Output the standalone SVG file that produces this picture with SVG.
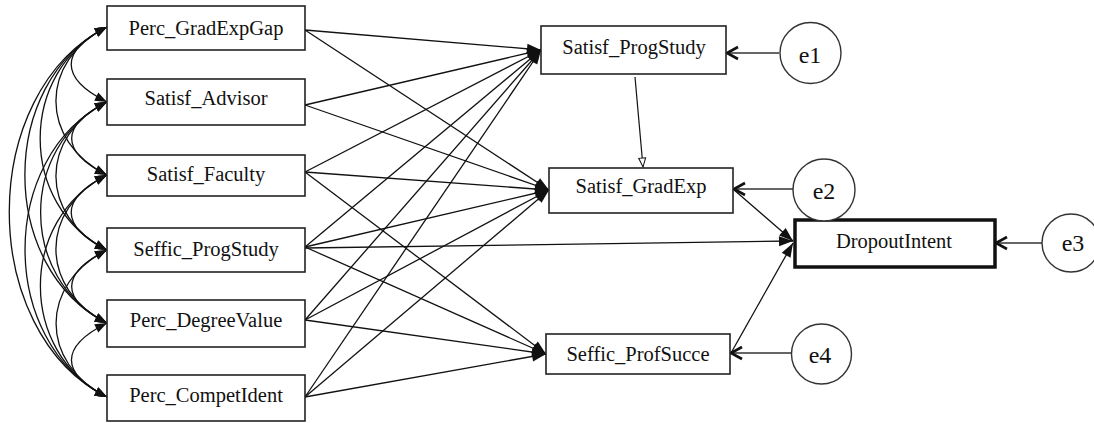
<svg xmlns="http://www.w3.org/2000/svg" width="1094" height="423" viewBox="0 0 1094 423">
  <style>
    .box { fill: #fff; stroke: #222; stroke-width: 1.6; }
    .box.main { stroke: #111; stroke-width: 3.5; }
    .err { fill: #fff; stroke: #333; stroke-width: 1.4; }
    .lbl { font-family: "Liberation Serif", "Times New Roman", serif; font-size: 20.5px; fill: #111; text-anchor: middle; }
    .elbl { font-family: "Liberation Serif", "Times New Roman", serif; font-size: 24px; fill: #111; text-anchor: middle; }
    .path { fill: none; stroke: #111; stroke-width: 1.3; marker-end: url(#head); }
    .cov { fill: none; stroke: #111; stroke-width: 1.3; marker-start: url(#covhead); marker-end: url(#covhead); }
    .res { fill: none; stroke: #333; stroke-width: 1.3; marker-end: url(#vhead); }
    .thin { fill: none; stroke: #111; stroke-width: 1.2; marker-end: url(#small); }
  </style>
  <defs>
    <marker id="head" markerUnits="userSpaceOnUse" markerWidth="16" markerHeight="12" refX="14" refY="5" orient="auto" overflow="visible">
      <path d="M0,0 L14,5 L0,10 z" fill="#111"/>
    </marker>
    <marker id="covhead" markerUnits="userSpaceOnUse" markerWidth="14" markerHeight="10" refX="12" refY="4.5" orient="auto-start-reverse" overflow="visible">
      <path d="M0,0 L12,4.5 L0,9 z" fill="#111"/>
    </marker>
    <marker id="vhead" markerUnits="userSpaceOnUse" markerWidth="14" markerHeight="14" refX="11" refY="6" orient="auto" overflow="visible">
      <path d="M0,0 L11,6 L0,12" fill="none" stroke="#111" stroke-width="2.6"/>
    </marker>
    <marker id="small" markerUnits="userSpaceOnUse" markerWidth="10" markerHeight="8" refX="9" refY="3.5" orient="auto" overflow="visible">
      <path d="M0,0 L9,3.5 L0,7 z" fill="#fff" stroke="#111" stroke-width="1"/>
    </marker>
  </defs>

  <!-- connectors -->
  <g id="connectors">
    <!-- covariances among exogenous variables -->
    <path class="cov" d="M107,27 C59.3,50.8 59.3,78.2 107,102"/>
    <path class="cov" d="M107,27 C38.9,61.1 38.9,140.9 107,175"/>
    <path class="cov" d="M107,27 C17.9,71.6 17.9,205.4 107,250"/>
    <path class="cov" d="M107,27 C-2.5,81.8 -2.5,268.2 107,323"/>
    <path class="cov" d="M107,27 C-23.3,92.1 -23.3,331.9 107,397"/>
    <path class="cov" d="M107,102 C59.9,125.5 59.9,151.5 107,175"/>
    <path class="cov" d="M107,102 C38.9,136.1 38.9,215.9 107,250"/>
    <path class="cov" d="M107,102 C18.5,146.3 18.5,278.7 107,323"/>
    <path class="cov" d="M107,102 C-2.3,156.6 -2.3,342.4 107,397"/>
    <path class="cov" d="M107,175 C59.3,198.8 59.3,226.2 107,250"/>
    <path class="cov" d="M107,175 C38.9,209.1 38.9,288.9 107,323"/>
    <path class="cov" d="M107,175 C18.2,219.4 18.2,352.6 107,397"/>
    <path class="cov" d="M107,250 C59.9,273.5 59.9,299.5 107,323"/>
    <path class="cov" d="M107,250 C39.1,283.9 39.1,363.1 107,397"/>
    <path class="cov" d="M107,323 C59.6,346.7 59.6,373.3 107,397"/>

    <!-- to Satisf_ProgStudy -->
    <path class="path" d="M305,30 L541,50"/>
    <path class="path" d="M305,105 L541,50"/>
    <path class="path" d="M305,172 L541,50"/>
    <path class="path" d="M305,247 L541,50"/>
    <path class="path" d="M305,320 L541,50"/>
    <path class="path" d="M305,397 L541,50"/>

    <!-- to Satisf_GradExp -->
    <path class="path" d="M305,30 L549,190"/>
    <path class="path" d="M305,105 L549,190"/>
    <path class="path" d="M305,172 L549,190"/>
    <path class="path" d="M305,247 L549,190"/>
    <path class="path" d="M305,320 L549,190"/>
    <path class="path" d="M305,397 L549,190"/>

    <!-- to Seffic_ProfSucce -->
    <path class="path" d="M305,172 L546,354"/>
    <path class="path" d="M305,247 L546,354"/>
    <path class="path" d="M305,320 L546,354"/>
    <path class="path" d="M305,397 L546,354"/>

    <!-- mediator paths -->
    <path class="thin" d="M635,77 L643,167"/>
    <path class="path" d="M733,189 L793,241"/>
    <path class="path" d="M305,248 L793,241"/>
    <path class="path" d="M731,353 L793,243"/>

    <!-- residual arrows -->
    <path class="res" d="M779,53 L727,53"/>
    <path class="res" d="M793,189 L734,189"/>
    <path class="res" d="M1042,243 L996,243"/>
    <path class="res" d="M791,353 L731,353"/>
  </g>

  <!-- exogenous observed variables -->
  <g id="perc-gradexpgap">
    <rect class="box" x="107" y="6" width="198" height="44"/>
    <text class="lbl" x="206" y="35">Perc_GradExpGap</text>
  </g>
  <g id="satisf-advisor">
    <rect class="box" x="107" y="79" width="198" height="46"/>
    <text class="lbl" x="206" y="105">Satisf_Advisor</text>
  </g>
  <g id="satisf-faculty">
    <rect class="box" x="107" y="155" width="198" height="41"/>
    <text class="lbl" x="206" y="181">Satisf_Faculty</text>
  </g>
  <g id="seffic-progstudy">
    <rect class="box" x="107" y="228" width="198" height="44"/>
    <text class="lbl" x="206" y="256">Seffic_ProgStudy</text>
  </g>
  <g id="perc-degreevalue">
    <rect class="box" x="107" y="300" width="198" height="47"/>
    <text class="lbl" x="206" y="327">Perc_DegreeValue</text>
  </g>
  <g id="perc-competident">
    <rect class="box" x="107" y="375" width="198" height="46"/>
    <text class="lbl" x="206" y="402">Perc_CompetIdent</text>
  </g>

  <!-- mediators -->
  <g id="satisf-progstudy-m">
    <rect class="box" x="541" y="26" width="185" height="48"/>
    <text class="lbl" x="634" y="54">Satisf_ProgStudy</text>
  </g>
  <g id="satisf-gradexp">
    <rect class="box" x="549" y="168" width="184" height="45"/>
    <text class="lbl" x="641" y="193">Satisf_GradExp</text>
  </g>
  <g id="seffic-profsucce">
    <rect class="box" x="546" y="334" width="184" height="40"/>
    <text class="lbl" x="638" y="361">Seffic_ProfSucce</text>
  </g>

  <!-- outcome -->
  <g id="dropoutintent">
    <rect class="box main" x="795" y="220" width="200" height="47"/>
    <text class="lbl" x="894" y="248">DropoutIntent</text>
  </g>

  <!-- error terms -->
  <g id="e1">
    <circle class="err" cx="810.5" cy="53" r="30.5"/>
    <text class="elbl" x="810" y="63">e1</text>
  </g>
  <g id="e2">
    <circle class="err" cx="824" cy="190" r="31"/>
    <text class="elbl" x="824" y="199">e2</text>
  </g>
  <g id="e3">
    <circle class="err" cx="1071" cy="243" r="29"/>
    <text class="elbl" x="1073" y="251">e3</text>
  </g>
  <g id="e4">
    <circle class="err" cx="821.5" cy="354" r="30"/>
    <text class="elbl" x="820" y="363">e4</text>
  </g>
</svg>
